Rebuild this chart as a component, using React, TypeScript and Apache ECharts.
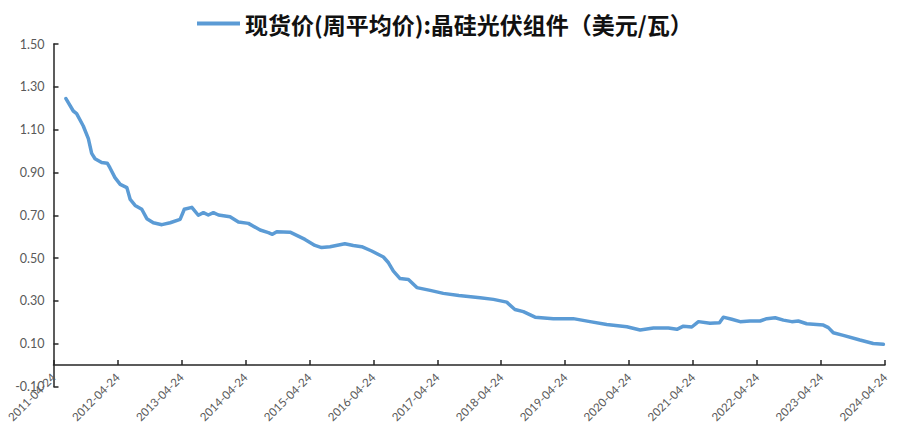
import React, { useEffect, useRef } from "react";
import * as echarts from "echarts";

const seriesName = "现货价(周平均价):晶硅光伏组件（美元/瓦）";
const startDate = "2011-04-24";
const yearCount = 13;

const dates = [
  "2011-07-04", "2011-08-15", "2011-09-03", "2011-10-11", "2011-11-09", "2011-11-28", "2011-12-17",
  "2012-01-24", "2012-02-25", "2012-03-11", "2012-04-09", "2012-05-09", "2012-06-16", "2012-07-05", "2012-08-02", "2012-09-09", "2012-10-08", "2012-11-14",
  "2013-01-02", "2013-02-18", "2013-04-16", "2013-05-10", "2013-06-22", "2013-07-29", "2013-08-27", "2013-09-24", "2013-10-23", "2013-11-21",
  "2014-01-26", "2014-03-15", "2014-05-11", "2014-07-17", "2014-09-02", "2014-09-25", "2014-10-20",
  "2015-01-04", "2015-02-11", "2015-03-30", "2015-05-26", "2015-07-03", "2015-08-20", "2015-11-13", "2015-12-31",
  "2016-02-17", "2016-04-14", "2016-06-20", "2016-07-19", "2016-08-16", "2016-09-23", "2016-11-10", "2016-12-28",
  "2017-03-14", "2017-05-28", "2017-08-25", "2017-12-24",
  "2018-03-10", "2018-05-25", "2018-07-11", "2018-08-28", "2018-11-03",
  "2019-02-15", "2019-06-09", "2019-09-13", "2019-12-17",
  "2020-04-10", "2020-06-25", "2020-09-09", "2020-12-03",
  "2021-01-21", "2021-02-27", "2021-04-16", "2021-05-24", "2021-07-29", "2021-09-21", "2021-10-13", "2021-11-30",
  "2022-01-17", "2022-03-14", "2022-05-11", "2022-06-18", "2022-08-05", "2022-09-21", "2022-11-08", "2022-12-15",
  "2023-02-01", "2023-05-07", "2023-06-05", "2023-07-03", "2023-08-29", "2023-12-02", "2024-02-16", "2024-04-14",
];

const prices = [
  1.245, 1.187, 1.175, 1.117, 1.058, 0.989, 0.964,
  0.946, 0.943, 0.922, 0.876, 0.844, 0.829, 0.774, 0.746, 0.728, 0.684, 0.665,
  0.656, 0.665, 0.681, 0.728, 0.737, 0.7, 0.712, 0.701, 0.712, 0.701,
  0.693, 0.668, 0.662, 0.631, 0.619, 0.611, 0.623,
  0.621, 0.606, 0.587, 0.559, 0.549, 0.553, 0.567, 0.559,
  0.553, 0.533, 0.505, 0.478, 0.439, 0.404, 0.4, 0.362,
  0.349, 0.335, 0.325, 0.315,
  0.307, 0.294, 0.26, 0.25, 0.224,
  0.217, 0.217, 0.203, 0.19,
  0.179, 0.164, 0.173, 0.173,
  0.167, 0.182, 0.178, 0.203, 0.195, 0.198, 0.224, 0.214,
  0.203, 0.206, 0.206, 0.217, 0.221, 0.21, 0.203, 0.206,
  0.193, 0.187, 0.175, 0.151, 0.139, 0.117, 0.101, 0.097,
];

const yMin = -0.1;
const yMax = 1.5;
const yStep = 0.2;

const DAY = 86400000;
function yearsSinceStart(d: string): number {
  return (Date.parse(d) - Date.parse(startDate)) / (365.25 * DAY);
}

const GRID_TOP = 44;
const GRID_BOTTOM = 45.5;
const CHART_H = 432;

export default function App() {
  const ref = useRef<HTMLDivElement>(null);
  useEffect(() => {
    if (!ref.current) return;
    const chart = echarts.init(ref.current, null, { renderer: "svg" });
    const data = dates.map((d, i) => [yearsSinceStart(d), prices[i]]);
    const tickFont = "Lato, 'Liberation Sans', sans-serif";
    const gridH = CHART_H - GRID_TOP - GRID_BOTTOM;
    // move the x axis (line, ticks and labels) up to where the value 0 lies
    const zeroOffset = -((0 - yMin) / (yMax - yMin)) * gridH;
    chart.setOption({
      animation: false,
      backgroundColor: "#ffffff",
      legend: {
        data: [seriesName],
        left: 192,
        top: 7,
        icon: "rect",
        itemWidth: 43,
        itemHeight: 4,
        textStyle: {
          fontSize: 23,
          fontWeight: "bold",
          color: "#111111",
          fontFamily: "'Noto Sans CJK SC', sans-serif",
        },
      },
      grid: {
        left: 53.5,
        right: 13,
        top: GRID_TOP,
        bottom: GRID_BOTTOM,
        containLabel: false,
        outerBoundsMode: "none",
      },
      xAxis: {
        type: "value",
        position: "bottom",
        offset: zeroOffset,
        min: 0,
        max: yearCount,
        interval: 1,
        axisLine: { onZero: false, lineStyle: { color: "#262626", width: 1.5 } },
        axisTick: { inside: true, length: 5, lineStyle: { color: "#262626", width: 1.5 } },
        splitLine: { show: false },
        axisLabel: {
          rotate: 45,
          margin: 10,
          fontSize: 11.5,
          color: "#595959",
          fontFamily: tickFont,
          hideOverlap: false,
          formatter: (v: number) => `${2011 + Math.round(v)}-04-24`,
        },
      },
      yAxis: {
        type: "value",
        min: yMin,
        max: yMax,
        interval: yStep,
        axisLine: { show: true, lineStyle: { color: "#262626", width: 1.5 } },
        axisTick: { show: true, inside: true, length: 5, lineStyle: { color: "#262626", width: 1.5 } },
        splitLine: { show: false },
        axisLabel: {
          margin: 9,
          fontSize: 12.5,
          color: "#595959",
          fontFamily: tickFont,
          formatter: (v: number) => v.toFixed(2),
        },
      },
      series: [
        {
          name: seriesName,
          type: "line",
          data,
          showSymbol: false,
          symbol: "none",
          smooth: false,
          color: "#5B9BD5",
          lineStyle: { color: "#5B9BD5", width: 3.5, join: "round", cap: "round" },
        },
      ],
    });
    return () => chart.dispose();
  }, []);
  return (
    <div
      ref={ref}
      style={{ position: "fixed", left: 0, top: 0, width: 898, height: 432, background: "#fff" }}
    />
  );
}
